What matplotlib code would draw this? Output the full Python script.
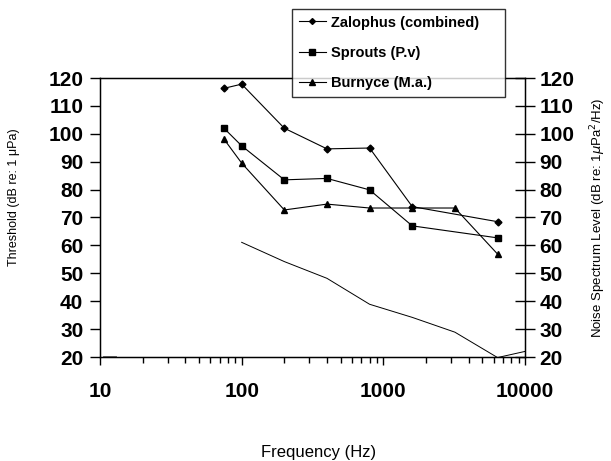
import matplotlib
matplotlib.use("Agg")
import matplotlib.pyplot as plt
from matplotlib.ticker import LogLocator, FixedLocator, NullFormatter

plt.rcParams['font.family'] = ['Liberation Sans', 'DejaVu Sans']

# Data
zal_freq = [75, 100, 200, 400, 800, 1600, 6400]
zal_db = [116.3, 117.8, 102.0, 94.6, 94.9, 73.9, 68.5]

spr_freq = [75, 100, 200, 400, 800, 1600, 6400]
spr_db = [102.0, 95.7, 83.5, 84.0, 79.9, 67.0, 62.7]

bur_freq = [75, 100, 200, 400, 800, 1600, 3200, 6400]
bur_db = [98.1, 89.5, 72.7, 74.8, 73.4, 73.4, 73.4, 56.9]

noise_freq = [100, 200, 400, 800, 1600, 3200, 6400, 10000]
noise_db = [61.1, 54.2, 48.2, 38.9, 34.2, 28.9, 19.8, 22.0]

noise_low_freq = [10.5, 13]
noise_low_db = [20.3, 20.3]

yticks = [20, 30, 40, 50, 60, 70, 80, 90, 100, 110, 120]
xticks = [10, 100, 1000, 10000]
xticklabels = ['10', '100', '1000', '10000']

fig = plt.figure(figsize=(6.11, 4.61), dpi=100)
ax = fig.add_axes([100/611, 1-357/461, 425/611, 279/461])

lw = 0.8
ax.plot(zal_freq, zal_db, color='black', lw=lw, marker='D', ms=3.5, label='Zalophus (combined)')
ax.plot(spr_freq, spr_db, color='black', lw=lw, marker='s', ms=4.8, label='Sprouts (P.v)')
ax.plot(bur_freq, bur_db, color='black', lw=lw, marker='^', ms=5, label='Burnyce (M.a.)')
ax.plot(noise_freq, noise_db, color='black', lw=0.7)
ax.plot(noise_low_freq, noise_low_db, color='#555555', lw=0.6)

ax.set_xscale('log')
ax.set_xlim(10, 10000)
ax.set_ylim(20, 120)
ax.xaxis.set_major_locator(FixedLocator(xticks))
ax.set_xticklabels(xticklabels)
ax.xaxis.set_minor_locator(LogLocator(base=10, subs=range(2, 10)))
ax.xaxis.set_minor_formatter(NullFormatter())
ax.set_yticks(yticks)

for sp in ax.spines.values():
    sp.set_linewidth(1.0)

ax.tick_params(axis='x', which='major', direction='out', length=6, width=1,
               labelsize=15, pad=12)
ax.tick_params(axis='x', which='minor', direction='out', length=4.5, width=1)
ax.tick_params(axis='y', which='major', direction='out', length=7, width=1,
               labelsize=15, pad=5)
for lab in ax.get_xticklabels() + ax.get_yticklabels():
    lab.set_fontweight('bold')

ax2 = ax.twinx()
ax2.set_ylim(20, 120)
ax2.set_yticks(yticks)
ax2.tick_params(axis='y', direction='inout', length=15, width=1, labelsize=15, pad=3)
for lab in ax2.get_yticklabels():
    lab.set_fontweight('bold')

ax.set_ylabel('Threshold (dB re: 1 μPa)', fontsize=9)
ax.yaxis.set_label_coords(-0.188, 0.573)
ax2.set_ylabel('Noise Spectrum Level (dB re: 1$\\mu$Pa$^2$/Hz)', fontsize=9.5)
ax2.yaxis.set_label_coords(1.15, 0.5)
ax.set_xlabel('Frequency (Hz)', fontsize=12)
ax.xaxis.set_label_coords(0.515, -0.315)

leg = fig.legend(loc='upper left', bbox_to_anchor=(292/611, 1-97/461, 213/611, 88/461),
                 mode='expand',
                 frameon=True, fancybox=False, edgecolor='black',
                 prop={'weight': 'bold', 'size': 10.5}, handlelength=1.85,
                 handletextpad=0.35, labelspacing=1.12, borderpad=0.45,
                 borderaxespad=0, markerscale=0.85)
leg.get_frame().set_linewidth(1.0)
leg.set_zorder(10)

fig.savefig('out.png', dpi=100)
